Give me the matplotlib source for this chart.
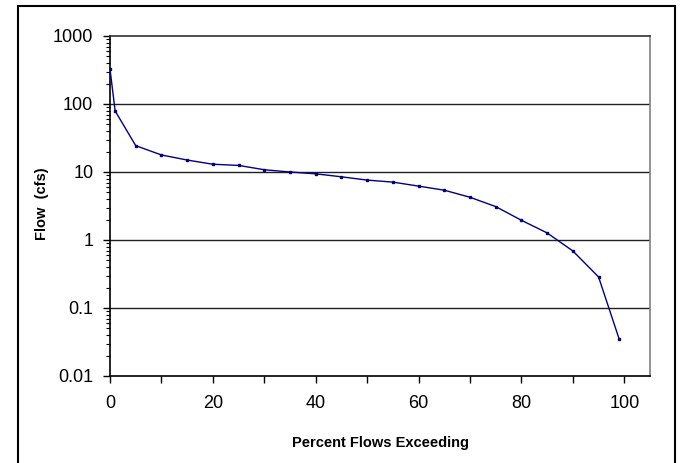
import matplotlib
matplotlib.use("Agg")
import matplotlib.pyplot as plt
import matplotlib.patches as mpatches
from matplotlib.ticker import LogLocator, NullFormatter, FixedLocator

plt.rcParams['font.family'] = ['Liberation Sans', 'DejaVu Sans']

# flow duration curve
percent = [0, 1, 5, 10, 15, 20, 25, 30, 35, 40, 45, 50, 55, 60, 65, 70, 75, 80, 85, 90, 95, 99]
flow = [327, 79, 24.4, 17.8, 15.0, 13.0, 12.5, 10.8, 10.0, 9.4, 8.5, 7.6, 7.1, 6.2,
        5.4, 4.25, 3.1, 1.95, 1.27, 0.69, 0.286, 0.035]

x_ticks = [0, 20, 40, 60, 80, 100]
y_ticks = [0.01, 0.1, 1, 10, 100, 1000]
y_labels = ["0.01", "0.1", "1", "10", "100", "1000"]

W, H = 680, 463
fig = plt.figure(figsize=(W / 100, H / 100), dpi=100)
ax = fig.add_axes([110 / W, 1 - 376 / H, (650 - 110) / W, (376 - 36) / H])

ax.plot(percent, flow, color='#000080', lw=1, marker='s', markersize=1.8, zorder=3)

ax.set_yscale('log')
ax.set_ylim(0.01, 1000)
ax.set_xlim(0, 105)

ax.set_yticks(y_ticks)
ax.set_yticklabels(y_labels)
ax.yaxis.set_minor_locator(LogLocator(base=10, subs=range(2, 10)))
ax.yaxis.set_minor_formatter(NullFormatter())
ax.set_xticks(x_ticks)
ax.xaxis.set_minor_locator(FixedLocator([10, 30, 50, 70, 90]))

ax.tick_params(axis='both', which='major', direction='out', length=5, width=1,
               labelsize=13, color='black')
ax.tick_params(axis='y', which='minor', direction='out', length=3, width=0.8)
ax.tick_params(axis='x', which='minor', direction='out', length=5, width=1)
ax.tick_params(axis='x', which='major', pad=9)
ax.tick_params(axis='y', which='major', pad=7)

for v in [0.1, 1, 10, 100]:
    ax.axhline(v, color='#202020', lw=1, zorder=1)

ax.spines['left'].set_color('black')
ax.spines['bottom'].set_color('black')
ax.spines['top'].set_color('#303030')
ax.spines['right'].set_color('#808080')
for s in ax.spines.values():
    s.set_linewidth(1.2)

ax.set_xlabel("Percent Flows Exceeding", fontsize=10.5, fontweight='bold', labelpad=17)
ax.set_ylabel("Flow  (cfs)", fontsize=10.5, fontweight='bold', va='center')
ax.yaxis.set_label_coords(-0.126, 0.507)

# outer chart frame, cut off at the bottom like the original
frame = mpatches.Rectangle((18 / W, -0.05), (675 - 18) / W, (H - 6) / H + 0.05,
                           transform=fig.transFigure, fill=False, edgecolor='black',
                           lw=1.5, clip_on=False)
fig.patches.append(frame)

plt.savefig('out.png', dpi=100)
